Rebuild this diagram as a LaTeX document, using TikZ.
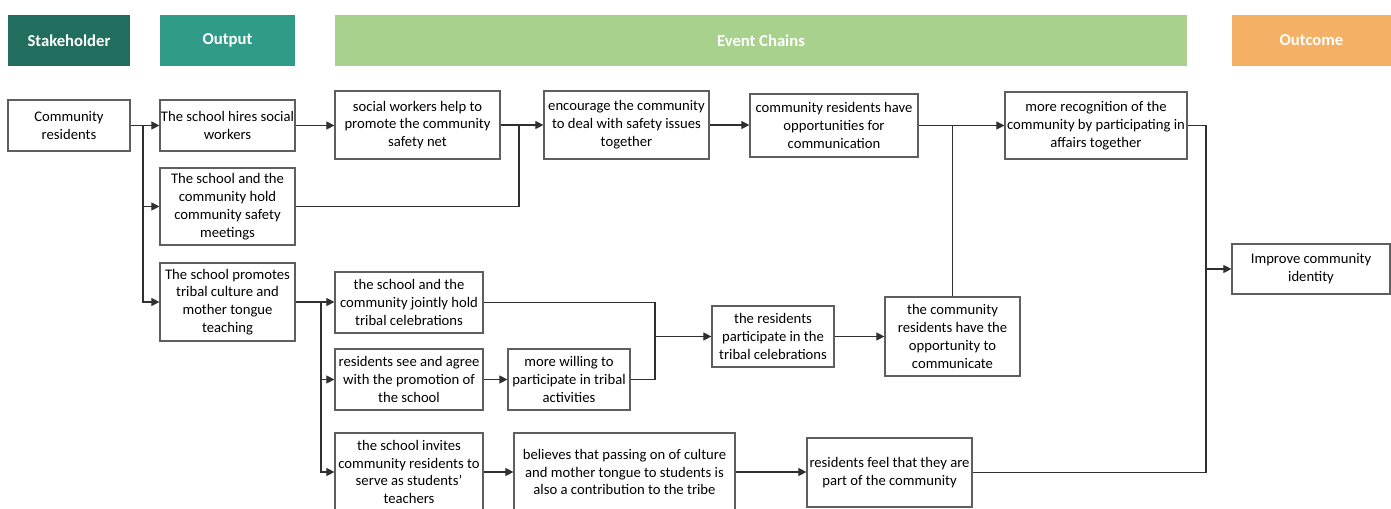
\documentclass[tikz,border=0pt]{standalone}
\usepackage{fontspec}
\setmainfont{Carlito}
\usetikzlibrary{arrows.meta}
\definecolor{stakec}{HTML}{216E5F}
\definecolor{outc}{HTML}{309B87}
\definecolor{evc}{HTML}{A9D18E}
\definecolor{outcomec}{HTML}{F4B064}
\definecolor{boxgray}{HTML}{5F5F5F}
\definecolor{linegray}{HTML}{303030}
% #1 style, #2 name, #3 x1, #4 y1, #5 x2, #6 y2, #7 text (pixel coordinates)
\newcommand\rbox[7][]{\node[#1, minimum width={(#5-#3)*0.75pt}, minimum height={(#6-#4)*0.75pt}] (#2) at ({(#3+#5)/2},{(#4+#6)/2}) {#7};}
\begin{document}
\begin{tikzpicture}[x=0.75pt,y=-0.75pt,
  hdr/.style={inner sep=0pt, text=white, font=\fontsize{12.5}{15}\selectfont\bfseries},
  box/.style={draw=boxgray, fill=white, line width=0.9pt, inner sep=0pt, align=center, font=\fontsize{11}{13.4}\selectfont},
  conn/.style={draw=linegray, line width=0.8pt},
  arr/.style={conn, -{Triangle[length=6pt,width=6pt]}}]
\clip (0,0) rectangle (1391,509);
% headers
\rbox[hdr, fill=stakec]{hS}{8}{15}{130}{66}{Stakeholder}
\rbox[hdr, fill=outc]{hO}{160}{15}{295}{66}{Output}
\rbox[hdr, fill=evc]{hE}{335}{15}{1187}{66}{Event Chains}
\rbox[hdr, fill=outcomec]{hC}{1232}{15}{1391}{66}{Outcome}
% boxes
\rbox[box]{CR}{8}{100}{130}{151}{Community\\residents}
\rbox[box]{O1}{160}{100}{295}{151}{The school hires social\\workers}
\rbox[box]{O2}{160}{168}{295}{245}{The school and the\\community hold\\community safety\\meetings}
\rbox[box]{O3}{160}{263}{295}{341}{The school promotes\\tribal culture and\\mother tongue\\teaching}
\rbox[box]{E1}{335}{91}{500}{159}{social workers help to\\promote the community\\safety net}
\rbox[box]{E2}{544}{91}{709}{159}{encourage the community\\to deal with safety issues\\together}
\rbox[box]{E3}{750}{94}{918}{157}{community residents have\\opportunities for\\communication}
\rbox[box]{E4}{1005}{92}{1187}{159}{more recognition of the\\community by participating in\\affairs together}
\rbox[box]{OUT}{1232}{244}{1390}{294}{Improve community\\identity}
\rbox[box]{C1}{335}{272}{483}{333}{the school and the\\community jointly hold\\tribal celebrations}
\rbox[box]{C2}{335}{349}{483}{410}{residents see and agree\\with the promotion of\\the school}
\rbox[box]{C3}{508}{349}{630}{410}{more willing to\\participate in tribal\\activities}
\rbox[box]{P1}{712}{306}{834}{367}{the residents\\participate in the\\tribal celebrations}
\rbox[box]{F}{885}{297}{1020}{376}{the community\\residents have the\\opportunity to\\communicate}
\rbox[box]{D1}{335}{433}{483}{511}{the school invites\\community residents to\\serve as students'\\teachers}
\rbox[box]{D2}{514}{433}{735}{511}{believes that passing on of culture\\and mother tongue to students is\\also a contribution to the tribe}
\rbox[box]{D3}{807}{438}{972}{507}{residents feel that they are\\part of the community}
% junctions
\coordinate (j1) at (143,125.5);
\coordinate (j2) at (519,125);
\coordinate (j4) at (321,302.5);
\coordinate (j5) at (655,336.5);
\coordinate (jr) at (1206,269);
% connectors
\draw[arr] (CR.east) -- (O1.west);
\draw[arr] (j1) |- (O2.west);
\draw[arr] (j1) |- (O3.west);
\draw[arr] (O1.east) -- (O1.east -| E1.west);
\draw[arr] (E1.east) -- (E1.east -| E2.west);
\draw[conn] (O2.east) -| (j2);
\draw[arr] (E2.east) -- (E2.east -| E3.west);
\draw[arr] (E3.east) -- (E3.east -| E4.west);
\draw[conn] (F.north) -- (F.north |- E4.west);
\draw[conn] (E4.east) -| (jr);
\draw[conn] (D3.east) -| (jr);
\draw[arr] (jr) -- (OUT.west);
\draw[arr] (O3.east) -- (O3.east -| C1.west);
\draw[arr] (j4) |- (C2.west);
\draw[arr] (j4) |- (D1.west);
\draw[arr] (C2.east) -- (C2.east -| C3.west);
\draw[conn] (C1.east) -| (j5);
\draw[conn] (C3.east) -| (j5);
\draw[arr] (j5) -- (P1.west);
\draw[arr] (P1.east) -- (P1.east -| F.west);
\draw[arr] (D1.east) -- (D1.east -| D2.west);
\draw[arr] (D2.east) -- (D2.east -| D3.west);
\end{tikzpicture}
\end{document}
